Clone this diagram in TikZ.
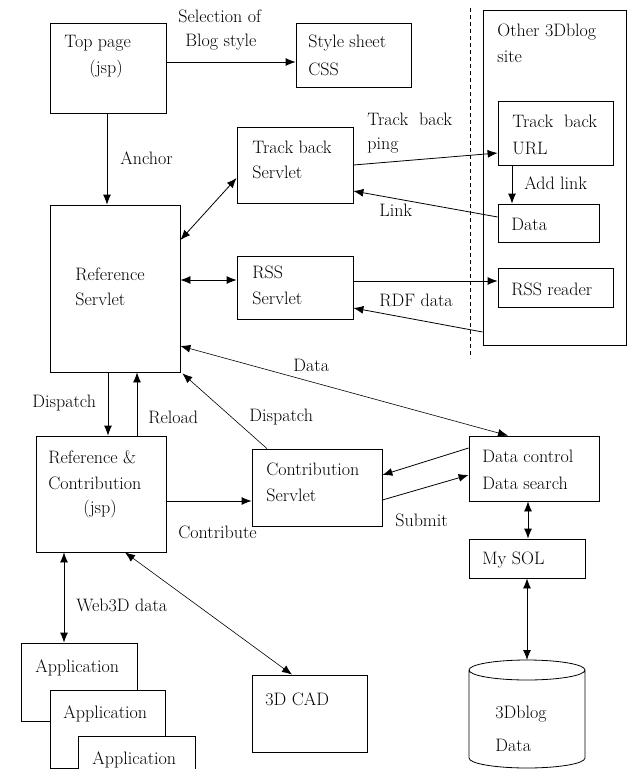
\documentclass[tikz,border=0pt]{standalone}
\usepackage{tikz}
\usetikzlibrary{arrows.meta,fit}

\begin{document}
\begin{tikzpicture}
      [x = 1pt, y = -1pt,
      line width = 0.8pt,
      box/.style= {
         draw,
         inner sep = 0pt
      },
      txt/.style= {
         anchor = west,
         inner sep = 0pt,
         font = \fontsize{18}{21}\selectfont
      },
      link/.style= {-{Latex[length=10pt,width=8pt]}},
      both/.style= {{Latex[length=10pt,width=8pt]}-{Latex[length=10pt,width=8pt]}},
      slim/.style= {line width = 0.6pt}]

      \useasboundingbox (0,0) rectangle (628,769);
      \clip (0,0) rectangle (628,769);

      % boxes
      \node[box, fit={(50,23) (166,113)}] (top) {};
      \node[box, fit={(296,23) (411,87)}] (css) {};
      \node[box, fit={(237,127) (353,203)}] (tbs) {};
      \node[box, fit={(237,256) (353,319)}] (rss) {};
      \node[box, fit={(50,205) (180,372)}] (ref) {};
      \node[box, fit={(36,436) (166,552)}] (rc) {};
      \node[box, fit={(252,449) (382,526)}] (cs) {};
      \node[box, fit={(469,436) (599,501)}] (dc) {};
      \node[box, fit={(469,539) (585,578)}] (sql) {};
      \node[box, fit={(483,10) (626,345)}] (other) {};
      \node[box, fit={(498,101) (613,165)}] (url) {};
      \node[box, fit={(498,204) (599,242)}] (rdata) {};
      \node[box, fit={(498,268) (613,307)}] (reader) {};
      \node[box, fit={(252,675) (367,752)}] (cad) {};
      \node[box, fill=white, fit={(21,643) (137,721)}] (app1) {};
      \node[box, fill=white, fit={(50,690) (165,768)}] (app2) {};
      \node[box, fill=white, fit={(78,736) (195,800)}] (app3) {};

      % database
      \coordinate (db) at (527,660);
      \draw (469,670) -- (469,758) arc[start angle=180, end angle=360, x radius=58pt, y radius=10pt]
         -- (585,670) arc[start angle=0, end angle=360, x radius=58pt, y radius=10pt];

      \draw[dash pattern=on 4pt off 3pt] (470,8) -- (470,358);

      % texts
      \node[txt] (sel1) at (178,16) {Selection of};
      \node[txt] (sel2) at (185,42) {Blog style};
      \node[txt] (topt1) at (64,43) {Top page};
      \node[txt] (topt2) at (89,69) {(jsp)};
      \node[txt] (csst1) at (308,43) {Style sheet};
      \node[txt] (csst2) at (308,69) {CSS};
      \node[txt] (anchor) at (120,158) {Anchor};
      \node[txt] (tbst1) at (252,147) {Track back};
      \node[txt] (tbst2) at (252,172) {Servlet};
      \node[txt] (ping1) at (367,119) {Track\ \ back};
      \node[txt] (ping2) at (367,146) {ping};
      \node[txt] (othert1) at (497,32) {Other 3Dblog};
      \node[txt] (othert2) at (497,57) {site};
      \node[txt] (urlt1) at (512,121) {Track\ \ back};
      \node[txt] (urlt2) at (512,148) {URL};
      \node[txt] (addlink) at (524,183) {Add link};
      \node[txt] (linklbl) at (379,210) {Link};
      \node[txt] (rdatat) at (511,224) {Data};
      \node[txt] (rsst1) at (252,272) {RSS};
      \node[txt] (rsst2) at (252,298) {Servlet};
      \node[txt] (readert) at (511,289) {RSS reader};
      \node[txt] (rdf) at (379,300) {RDF data};
      \node[txt] (reft1) at (75,274) {Reference};
      \node[txt] (reft2) at (75,299) {Servlet};
      \node[txt] (datalbl) at (293,365) {Data};
      \node[txt] (disp1) at (32,403) {Dispatch};
      \node[txt] (reload) at (148,417) {Reload};
      \node[txt] (disp2) at (249,417) {Dispatch};
      \node[txt] (rct1) at (48,457) {Reference \&};
      \node[txt] (rct2) at (48,483) {Contribution};
      \node[txt] (rct3) at (83,509) {(jsp)};
      \node[txt] (cst1) at (266,469) {Contribution};
      \node[txt] (cst2) at (266,495) {Servlet};
      \node[txt] (contrib) at (178,532) {Contribute};
      \node[txt] (dct1) at (482,456) {Data control};
      \node[txt] (dct2) at (482,483) {Data search};
      \node[txt] (submit) at (395,520) {Submit};
      \node[txt] (sqlt) at (482,560) {My SOL};
      \node[txt] (web3d) at (76,605) {Web3D data};
      \node[txt] (app1t) at (35,668) {Application};
      \node[txt] (app2t) at (63,714) {Application};
      \node[txt] (app3t) at (92,760) {Application};
      \node[txt] (cadt) at (265,699) {3D CAD};
      \node[txt] (dbt1) at (495,714) {3Dblog};
      \node[txt] (dbt2) at (495,745) {Data};

      % connectors
      \draw[link] (top.east |- 0,62) -- (css.west |- 0,62);
      \draw[link] (top.south -| 107,0) -- (ref.north -| 107,0);
      \draw[both] (ref.east |- 0,240) -- (tbs.west |- 0,178);
      \draw[link] (tbs.east |- 0,165) -- (url.west |- 0,153);
      \draw[link] (rdata.west |- 0,217) -- (tbs.east |- 0,191);
      \draw[link] (url.south -| 512,0) -- (rdata.north -| 512,0);
      \draw[both] (ref.east |- 0,280) -- (rss.west |- 0,280);
      \draw[link] (rss.east |- 0,281) -- (reader.west |- 0,281);
      \draw[link] (other.west |- 0,332) -- (rss.east |- 0,308);
      \draw[both, slim] (ref.east |- 0,346) -- (dc.north -| 508,0);
      \draw[link] (ref.south -| 108,0) -- (rc.north -| 108,0);
      \draw[link] (rc.north -| 137,0) -- (ref.south -| 137,0);
      \draw[link, slim] (cs.north -| 267,0) -- ([xshift=2pt,yshift=-1pt]ref.south east);
      \draw[link] (rc.east |- 0,501) -- (cs.west |- 0,501);
      \draw[link] (dc.west |- 0,448) -- (cs.east |- 0,475);
      \draw[link] (cs.east |- 0,500) -- (dc.west |- 0,475);
      \draw[both] (dc.south -| 528,0) -- (sql.north -| 528,0);
      \draw[both] (sql.south -| 527,0) -- (db);
      \draw[both] (rc.south -| 64,0) -- (app1.north -| 64,0);
      \draw[both, slim] (rc.south -| 125,0) -- (cad.north -| 292,0);

   \end{tikzpicture}
\end{document}
